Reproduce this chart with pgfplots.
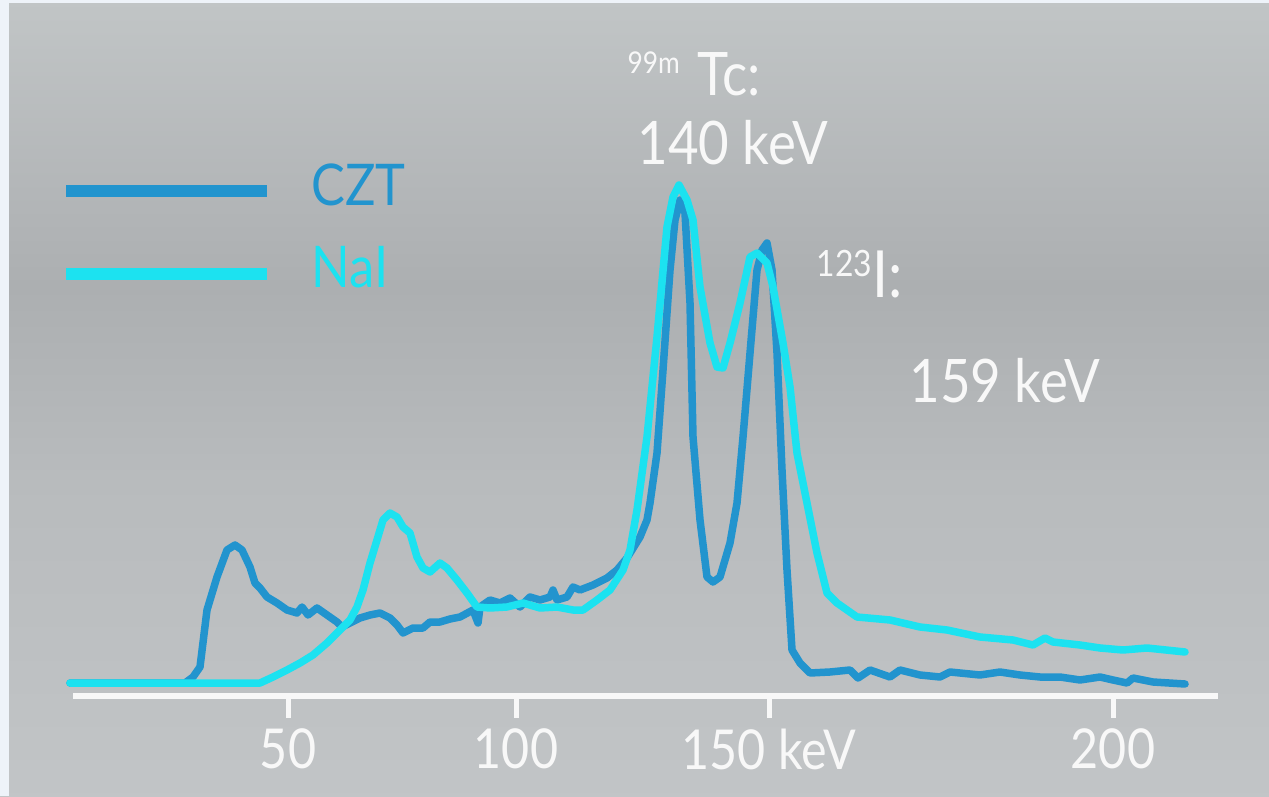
\documentclass[border=0pt]{standalone}
\usepackage{fontspec}
\setmainfont{Lato}[FakeStretch=0.88]
\usepackage{pgfplots}
\pgfplotsset{compat=1.18}
\definecolor{czt}{RGB}{34,148,206}
\definecolor{nai}{RGB}{28,226,240}
\definecolor{txt}{RGB}{248,248,248}
\definecolor{bgA}{RGB}{201,204,206}
\definecolor{bgB}{RGB}{196,199,201}
\definecolor{bgC}{RGB}{184,187,189}
\definecolor{bgD}{RGB}{172,175,177}
\definecolor{bgE}{RGB}{178,181,183}
\definecolor{bgF}{RGB}{193,197,198}
\definecolor{bgG}{RGB}{208,212,212}
\definecolor{strip}{RGB}{238,243,249}
\pgfdeclareverticalshading{bgshade}{100bp}{color(0bp)=(bgA); color(20bp)=(bgB); color(45bp)=(bgC); color(57bp)=(bgD); color(62bp)=(bgE); color(75bp)=(bgF); color(100bp)=(bgG)}
\begin{document}
\begin{tikzpicture}
\begin{axis}[
  scale only axis,
  width=458pt, height=318.4pt,
  xmin=73, xmax=1218, ymin=-100, ymax=696,
  axis x line=middle, axis y line=none,
  x axis line style={-, draw=txt, line width=2.4pt},
  axis on top,
  clip=false,
  xtick={288,516,769,1113},
  xticklabels={50,100,150 keV,200},
  tick align=center,
  major tick length=8.8pt,
  xtick style={draw=txt, line width=2pt, yshift=-4.4pt},
  xticklabel style={text=txt, anchor=north, inner sep=0pt, yshift=-8.4pt, font=\fontsize{22}{26}\selectfont},
  /pgf/number format/assume math mode=true,
  ytick=\empty,
  legend image code/.code={\draw[#1, line width=4.8pt, line cap=butt] (0pt,-2pt) -- (80pt,-2pt);},
  legend style={at={(axis cs:60,538)}, anchor=north west, draw=none, fill=none, inner sep=0pt,
    row sep=11pt, column sep=13.6pt, font=\fontsize{23}{27}\selectfont},
  legend cell align=left,
  every axis plot/.append style={line width=3pt, line join=round, line cap=round},
]
\shade[shading=bgshade] (axis cs:0,-100) rectangle (axis cs:1269,696);
\fill[strip] (axis cs:0,-100) rectangle (axis cs:9,696);
\fill[strip] (axis cs:0,693) rectangle (axis cs:1269,696);

\addplot[czt] coordinates {
(70,13) (185,13) (193,19) (200,29) (207,86) (217,119) (227,146) (235,151) (242,146) (250,129)
(255,113) (260,108) (267,99) (277,93) (287,86) (297,83) (302,89) (308,81) (317,88) (327,81)
(337,74) (342,69) (350,73) (360,78) (370,81) (380,83) (390,78) (397,71) (403,63) (413,68)
(423,68) (430,74) (440,74) (450,77) (460,79) (473,86) (478,73) (480,89) (490,96) (500,93)
(510,98) (520,89) (530,99) (540,96) (550,99) (553,106) (557,96) (567,99) (573,109) (580,106)
(593,111) (607,118) (617,126) (627,138) (640,159) (647,176) (650,193) (657,243) (663,326) (670,426)
(675,476) (680,496) (685,483) (690,393) (693,259) (700,176) (707,119) (713,114) (720,119) (730,153)
(737,193) (743,259) (750,343) (757,426) (762,446) (767,453) (772,426) (777,343) (782,226) (787,126)
(792,46) (800,33) (810,23) (830,24) (850,26) (858,18) (870,26) (890,19) (900,26) (920,21)
(940,19) (950,24) (980,21) (1000,24) (1020,21) (1040,19) (1060,19) (1080,16) (1100,19) (1113,16)
(1127,13) (1133,18) (1153,14) (1185,12)
};
\addlegendentry[text=czt]{CZT}
\addplot[nai] coordinates {
(70,13) (260,13) (273,19) (287,26) (300,33) (313,41) (327,53) (340,66) (350,76) (357,89)
(363,106) (370,133) (377,156) (383,176) (390,183) (397,179) (403,169) (410,163) (417,139) (423,128)
(430,124) (440,133) (447,128) (457,116) (467,103) (477,89) (490,88) (507,89) (523,93) (540,88)
(557,89) (573,86) (583,86) (597,96) (610,106) (623,126) (630,146) (637,186) (647,259) (657,359)
(667,469) (673,499) (679,511) (687,496) (693,476) (700,409) (710,353) (717,329) (723,328) (730,353)
(740,393) (750,439) (757,443) (767,433) (773,409) (783,353) (790,309) (797,243) (807,193) (817,143)
(827,103) (837,93) (857,79) (890,76) (920,69) (947,66) (980,59) (1013,56) (1033,51) (1045,58)
(1053,54) (1080,51) (1100,48) (1123,46) (1147,48) (1185,44)
};
\addlegendentry[text=nai]{NaI}

\node[anchor=base west, inner sep=0pt, text=txt] at (axis cs:627,601)
  {\raisebox{8.4pt}{\fontsize{12}{14}\selectfont 99m}\hspace{7pt}\fontsize{24}{28}\selectfont Tc:};
\node[anchor=base west, inner sep=0pt, text=txt] at (axis cs:637,532)
  {\fontsize{24}{28}\selectfont 140 keV};
\node[anchor=base west, inner sep=0pt, text=txt] at (axis cs:816,399)
  {\raisebox{8.4pt}{\fontsize{14.5}{17}\selectfont 123}\fontsize{26}{30}\selectfont I:};
\node[anchor=base west, inner sep=0pt, text=txt] at (axis cs:909,294)
  {\fontsize{24}{28}\selectfont 159 keV};
\end{axis}
\end{tikzpicture}
\end{document}
